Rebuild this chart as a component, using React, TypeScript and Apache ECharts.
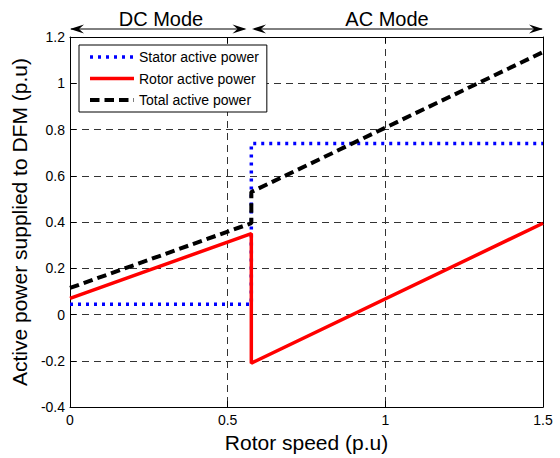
import React, { useEffect, useRef } from "react";
import * as echarts from "echarts";

const speed = [0, 0.575, 0.575, 1.5];
const stator = [0.045, 0.045, 0.74, 0.74];
const rotor = [0.07, 0.35, -0.21, 0.395];
const total = [0.115, 0.395, 0.53, 1.135];

const seriesNames = ["Stator active power", "Rotor active power", "Total active power"];
const modeLabels = ["DC Mode", "AC Mode"];

const FONT = '"Liberation Sans", Arial, Helvetica, sans-serif';

const W = 560;
const H = 458;
const GL = 70;
const GR = 543;
const GT = 37;
const GB = 410;

const lineStyles = [
  { color: "#0000ff", width: 3.5, type: [3, 5], cap: "butt" },
  { color: "#ff0000", width: 3.5, type: "solid", cap: "butt" },
  { color: "#000000", width: 4, type: [9.5, 5], cap: "butt" },
];

function arrowHead(tipX: number, y: number, dir: number) {
  return {
    type: "polygon",
    shape: {
      points: [
        [tipX, y],
        [tipX - dir * 14, y - 4.5],
        [tipX - dir * 9, y],
        [tipX - dir * 14, y + 4.5],
      ],
    },
    style: { fill: "#000" },
    silent: true,
  };
}

export default function App() {
  const ref = useRef<HTMLDivElement>(null);
  useEffect(() => {
    document.body.style.margin = "0";
    if (!ref.current) return;
    const chart = echarts.init(ref.current, null, { renderer: "svg" });
    const pts = (ys: number[]) => speed.map((x, i) => [x, ys[i]]);
    const arrowY = 29;
    const dcEnd = 246.5;
    const acStart = 252;
    const axisCommon = {
      axisLine: { show: true, onZero: false, lineStyle: { color: "#000", width: 1 } },
      axisTick: { show: true, inside: true, length: 6, lineStyle: { color: "#000" } },
    };
    chart.setOption({
      animation: false,
      backgroundColor: "#fff",
      textStyle: { fontFamily: FONT },
      grid: { left: GL, right: W - GR, top: GT, bottom: H - GB, containLabel: false },
      legend: {
        data: seriesNames.map((name, i) => ({
          name,
          lineStyle: { ...lineStyles[i], opacity: 1 },
          itemStyle: { opacity: 0 },
        })),
        orient: "vertical",
        left: 79,
        top: 45,
        padding: [5, 8, 5, 9],
        itemWidth: 44,
        itemHeight: 14,
        itemGap: 7.5,
        backgroundColor: "#fff",
        borderColor: "#000",
        borderWidth: 1,
        itemStyle: { opacity: 0 },
        textStyle: { fontSize: 14, color: "#000", fontFamily: FONT },
      },
      xAxis: [
        {
          type: "value",
          min: 0,
          max: 1.5,
          interval: 0.5,
          position: "bottom",
          name: "Rotor speed (p.u)",
          nameLocation: "middle",
          nameGap: 18,
          nameTextStyle: { fontSize: 21, color: "#000", fontFamily: FONT },
          ...axisCommon,
          axisLabel: { color: "#000", fontSize: 14, margin: 6, fontFamily: FONT },
          splitLine: { show: true, lineStyle: { color: "#333", width: 1, type: [7, 5] } },
        },
        {
          type: "value",
          min: 0,
          max: 1.5,
          interval: 0.5,
          position: "top",
          ...axisCommon,
          axisLabel: { show: false },
          splitLine: { show: false },
        },
      ],
      yAxis: [
        {
          type: "value",
          min: -0.4,
          max: 1.2,
          interval: 0.2,
          position: "left",
          name: "Active power supplied to DFM (p.u)",
          nameLocation: "middle",
          nameGap: 36,
          nameTextStyle: { fontSize: 21, color: "#000", fontFamily: FONT },
          ...axisCommon,
          axisLabel: { color: "#000", fontSize: 14, margin: 5, fontFamily: FONT },
          splitLine: { show: true, lineStyle: { color: "#333", width: 1, type: [7, 5] } },
        },
        {
          type: "value",
          min: -0.4,
          max: 1.2,
          interval: 0.2,
          position: "right",
          ...axisCommon,
          axisLabel: { show: false },
          splitLine: { show: false },
        },
      ],
      series: [
        {
          name: seriesNames[0],
          type: "line",
          data: pts(stator),
          symbol: "none",
          color: lineStyles[0].color,
          lineStyle: lineStyles[0],
          z: 2,
        },
        {
          name: seriesNames[1],
          type: "line",
          data: pts(rotor),
          symbol: "none",
          color: lineStyles[1].color,
          lineStyle: lineStyles[1],
          z: 3,
        },
        {
          name: seriesNames[2],
          type: "line",
          data: pts(total),
          symbol: "none",
          color: lineStyles[2].color,
          lineStyle: lineStyles[2],
          z: 4,
        },
      ],
      graphic: [
        {
          type: "line",
          shape: { x1: GL + 1, y1: arrowY, x2: dcEnd - 2, y2: arrowY },
          style: { stroke: "#000", lineWidth: 1 },
          silent: true,
        },
        arrowHead(GL, arrowY, -1),
        arrowHead(dcEnd, arrowY, 1),
        {
          type: "line",
          shape: { x1: acStart + 2, y1: arrowY, x2: GR - 1, y2: arrowY },
          style: { stroke: "#000", lineWidth: 1 },
          silent: true,
        },
        arrowHead(acStart, arrowY, -1),
        arrowHead(GR, arrowY, 1),
        {
          type: "text",
          x: 161,
          y: 19,
          style: {
            text: modeLabels[0],
            fontSize: 20,
            fontFamily: FONT,
            fill: "#000",
            align: "center",
            verticalAlign: "middle",
          },
          silent: true,
        },
        {
          type: "text",
          x: 387,
          y: 19,
          style: {
            text: modeLabels[1],
            fontSize: 20,
            fontFamily: FONT,
            fill: "#000",
            align: "center",
            verticalAlign: "middle",
          },
          silent: true,
        },
      ],
    });
    return () => chart.dispose();
  }, []);
  return <div ref={ref} style={{ width: W, height: H }} />;
}
